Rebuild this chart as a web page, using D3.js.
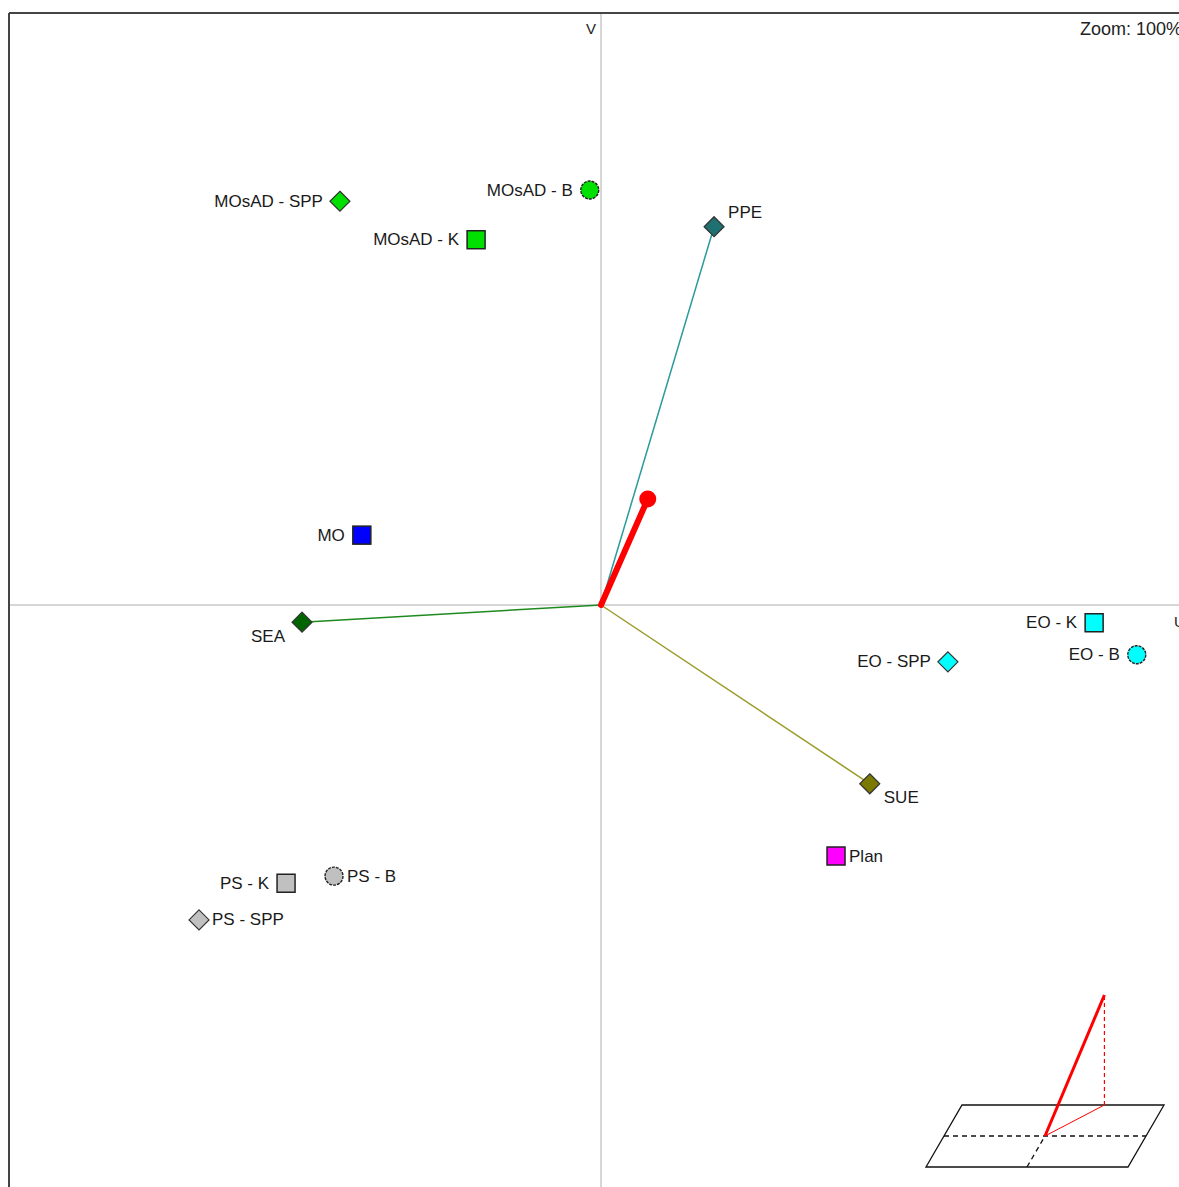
<!DOCTYPE html>
<html><head><meta charset="utf-8">
<script src="https://cdn.jsdelivr.net/npm/d3@7"></script>
<style>html,body{margin:0;padding:0;background:#fff;overflow:hidden}</style>
</head><body>
<svg id="c" width="1179" height="1187"></svg>
<script>
// ---- data (U, V coordinates) ----
const names  = ["MOsAD - SPP","MOsAD - B","MOsAD - K","PPE","MO","SEA","EO - K","EO - B","EO - SPP","SUE","Plan","PS - K","PS - B","PS - SPP"];
const uVals  = [-0.441,-0.019,-0.211,0.191,-0.404,-0.505,0.833,0.905,0.586,0.454,0.397,-0.532,-0.451,-0.679];
const vVals  = [0.682,0.701,0.617,0.639,0.118,-0.029,-0.030,-0.084,-0.096,-0.302,-0.424,-0.470,-0.458,-0.532];
const shapes = ["diamond","circle","square","diamond","square","diamond","square","circle","diamond","diamond","square","square","circle","diamond"];
const fills  = ["#00e000","#00e000","#00e000","#1f7070","#0000ff","#006400","#00ffff","#00ffff","#00ffff","#7a7a00","#ff00ff","#c0c0c0","#c0c0c0","#c0c0c0"];
const labelSide = ["left","left","left","aboveRight","left","belowLeft","left","left","left","belowRight","right","left","right","right"];
// vectors from origin
const vecNames  = ["PPE","SEA","SUE"];
const vecColors = ["#2a9a9a","#1e8a1e","#9a9a2a"];
// resulting (red) vector
const redU = 0.079, redV = 0.179;
// 3D inset vector (x, y, z in inset units)
const inset3D = {x: 0.41, y: 1.0, z: 1.0};

const svg = d3.select("#c");
const x = d3.scaleLinear().domain([-1, 1]).range([9, 1193]);
const y = d3.scaleLinear().domain([-1, 1]).range([1197, 13]);
const FONT = "'Liberation Sans', Arial, sans-serif";

// axes through origin
svg.append("line").attr("x1", x(0)).attr("x2", x(0)).attr("y1", y(1)).attr("y2", 1187)
  .attr("stroke", "#c8c8c8").attr("stroke-width", 1.5);
svg.append("line").attr("x1", x(-1)).attr("x2", 1179).attr("y1", y(0)).attr("y2", y(0))
  .attr("stroke", "#c8c8c8").attr("stroke-width", 1.5);

// frame
svg.append("line").attr("x1", x(-1)).attr("x2", 1179).attr("y1", y(1)).attr("y2", y(1))
  .attr("stroke", "#444").attr("stroke-width", 2);
svg.append("line").attr("x1", x(-1)).attr("x2", x(-1)).attr("y1", y(1)).attr("y2", 1187)
  .attr("stroke", "#444").attr("stroke-width", 2);

// axis labels
svg.append("text").attr("x", x(0) - 10).attr("y", 34).text("V")
  .attr("font-family", FONT).attr("font-size", 15).attr("fill", "#222").attr("text-anchor", "middle");
svg.append("text").attr("x", 1174).attr("y", y(0) + 22).text("U")
  .attr("font-family", FONT).attr("font-size", 15).attr("fill", "#222");
svg.append("text").attr("x", 1080).attr("y", 35).text("Zoom: 100%")
  .attr("font-family", FONT).attr("font-size", 18).attr("fill", "#222");

// vector lines
vecNames.forEach((n, k) => {
  const i = names.indexOf(n);
  svg.append("line").attr("x1", x(0)).attr("y1", y(0)).attr("x2", x(uVals[i])).attr("y2", y(vVals[i]))
    .attr("stroke", vecColors[k]).attr("stroke-width", 1.5);
});

// red vector
svg.append("line").attr("x1", x(0)).attr("y1", y(0)).attr("x2", x(redU)).attr("y2", y(redV))
  .attr("stroke", "#ff0000").attr("stroke-width", 6).attr("stroke-linecap", "round");
svg.append("circle").attr("cx", x(redU)).attr("cy", y(redV)).attr("r", 8.5).attr("fill", "#ff0000");

// markers
const g = svg.append("g");
names.forEach((n, i) => {
  const cx = x(uVals[i]), cy = y(vVals[i]);
  const s = shapes[i];
  if (s === "square") {
    g.append("rect").attr("x", cx - 9).attr("y", cy - 9).attr("width", 18).attr("height", 18)
      .attr("fill", fills[i]).attr("stroke", "#222").attr("stroke-width", 1.5);
  } else if (s === "diamond") {
    g.append("path").attr("d", `M${cx},${cy-10}L${cx+10},${cy}L${cx},${cy+10}L${cx-10},${cy}Z`)
      .attr("fill", fills[i]).attr("stroke", "#333").attr("stroke-width", 1.2);
  } else {
    g.append("circle").attr("cx", cx).attr("cy", cy).attr("r", 9)
      .attr("fill", fills[i]).attr("stroke", "#222").attr("stroke-width", 1.4).attr("stroke-dasharray", "3,1");
  }
  const t = g.append("text").text(n).attr("font-family", FONT).attr("font-size", 17).attr("fill", "#1a1a1a")
    .attr("dominant-baseline", "central");
  const side = labelSide[i];
  if (side === "left") t.attr("x", cx - 17).attr("y", cy).attr("text-anchor", "end");
  else if (side === "right") t.attr("x", cx + 13).attr("y", cy).attr("text-anchor", "start");
  else if (side === "aboveRight") t.attr("x", cx + 14).attr("y", cy - 14).attr("text-anchor", "start");
  else if (side === "belowLeft") t.attr("x", cx - 17).attr("y", cy + 14).attr("text-anchor", "end");
  else if (side === "belowRight") t.attr("x", cx + 14).attr("y", cy + 14).attr("text-anchor", "start");
});

// 3D inset
const ins = svg.append("g").attr("transform", "translate(1044,1136)");
const sx = d3.scaleLinear().domain([-1, 1]).range([-100, 102]);   // plane width
const depth = d3.scaleLinear().domain([-1, 1]).range([31, -31]);  // depth rows (y offset)
const skew = 18 / 31;                                            // x shift per depth px
const sz = d3.scaleLinear().domain([0, 1]).range([0, -110]);
function P(a, b, c) { const dy = depth(b); return [sx(a) - dy * skew, dy + sz(c)]; }
const line = d3.line();
ins.append("path").attr("d", line([P(-1,-1,0), P(1,-1,0), P(1,1,0), P(-1,1,0)]) + "Z")
  .attr("fill", "none").attr("stroke", "#111").attr("stroke-width", 1.3);
ins.append("path").attr("d", line([P(-1,0,0), P(1,0,0)]))
  .attr("stroke", "#111").attr("stroke-width", 1.3).attr("stroke-dasharray", "5,4");
ins.append("path").attr("d", line([P(0,-1,0), P(0,0,0)]))
  .attr("stroke", "#111").attr("stroke-width", 1.3).attr("stroke-dasharray", "5,4");
const tip = P(inset3D.x, inset3D.y, inset3D.z);
const foot = P(inset3D.x, inset3D.y, 0);
ins.append("path").attr("d", line([P(0,0,0), foot])).attr("stroke", "#ff0000").attr("stroke-width", 1);
ins.append("path").attr("d", line([foot, tip])).attr("stroke", "#ff0000").attr("stroke-width", 1.2).attr("stroke-dasharray", "4,3");
ins.append("path").attr("d", line([P(0,0,0), tip])).attr("stroke", "#ff0000").attr("stroke-width", 3);
</script>
</body></html>
